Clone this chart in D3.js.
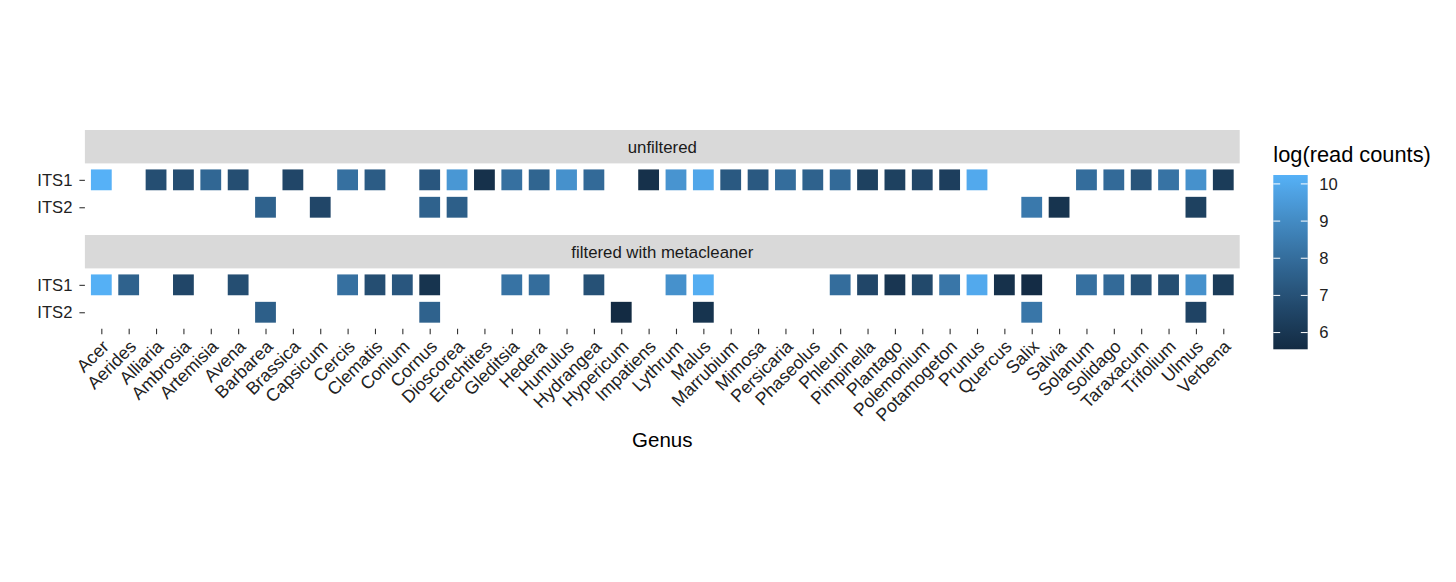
<!DOCTYPE html>
<html>
<head>
<meta charset="utf-8">
<script src="https://cdn.jsdelivr.net/npm/d3@7"></script>
<style>
  body { margin: 0; background: #fff; }
  svg text { font-family: "Liberation Sans", Arial, Helvetica, sans-serif; }
</style>
</head>
<body>
<div id="chart"></div>
<script>
// genus names along x
const genera = ["Acer","Aerides","Alliaria","Ambrosia","Artemisia","Avena","Barbarea","Brassica","Capsicum","Cercis",
  "Clematis","Conium","Cornus","Dioscorea","Erechtites","Gleditsia","Hedera","Humulus","Hydrangea","Hypericum",
  "Impatiens","Lythrum","Malus","Marrubium","Mimosa","Persicaria","Phaseolus","Phleum","Pimpinella","Plantago",
  "Polemonium","Potamogeton","Prunus","Quercus","Salix","Salvia","Solanum","Solidago","Taraxacum","Trifolium",
  "Ulmus","Verbena"]
const markers = ["ITS1", "ITS2"]
const facets = ["unfiltered", "filtered with metacleaner"]
const legendTicks = [6, 7, 8, 9, 10]

// log(read counts), null = no reads  (same order as genera)
const unfilteredITS1 = [10.24,null,6.9,6.9,7.8,6.9,null,6.6,null,8.1,
  7.4,null,7.2,9.4,5.8,8.1,7.7,9.2,7.9,null,
  5.8,9.3,9.9,7.3,7.3,8.0,7.6,7.9,6.4,6.4,
  6.6,6.3,10.0,null,null,null,8.0,7.9,7.1,8.2,
  9.2,6.2]
const unfilteredITS2 = [null,null,null,null,null,null,7.6,null,6.6,null,
  null,null,7.6,7.5,null,null,null,null,null,null,
  null,null,null,null,null,null,null,null,null,null,
  null,null,null,null,8.4,5.9,null,null,null,null,
  6.4,null]
const filteredITS1 = [10.2,7.6,null,6.6,null,6.9,null,null,null,8.1,
  6.9,7.2,5.9,null,null,8.2,8.0,null,7.0,null,
  null,9.2,10.1,null,null,null,null,8.0,6.6,6.0,
  6.7,8.3,10.0,5.8,5.6,null,8.1,7.9,7.0,6.9,
  9.2,6.2]
const filteredITS2 = [null,null,null,null,null,null,7.5,null,null,null,
  null,null,7.6,null,null,null,null,null,null,5.55,
  null,null,5.9,null,null,null,null,null,null,null,
  null,null,null,null,8.3,null,null,null,null,null,
  6.5,null]

const W = 1456, H = 582
const left = 84.9, right = 1239.7
const stripH = 33.4, panelH = 60.3
const facetTop = [130, 235]

const seriesByFacet = [[unfilteredITS1, unfilteredITS2], [filteredITS1, filteredITS2]]
const cells = []
seriesByFacet.forEach(function (rows, f) {
  rows.forEach(function (vals, r) {
    vals.forEach(function (v, i) {
      if (v != null) cells.push({facet: f, marker: markers[r], genus: genera[i], value: v})
    })
  })
})

const extent = d3.extent(cells, d => d.value)
const lab = d3.interpolateLab("#132B43", "#56B1F7")
const color = d3.scaleSequential(lab).domain(extent)

const svg = d3.select("#chart").append("svg")
  .attr("width", W).attr("height", H)
svg.append("rect").attr("width", W).attr("height", H).attr("fill", "#fff")

const x = d3.scalePoint().domain(genera).range([left, right]).padding(0.6)
const tileW = x.step() * 0.76

facets.forEach(function (name, f) {
  const top = facetTop[f]
  const pTop = top + stripH
  const y = d3.scalePoint().domain(markers).range([pTop, pTop + panelH]).padding(0.6)
  const tileH = y.step() * 0.76

  // strip
  svg.append("rect")
    .attr("x", left).attr("y", top)
    .attr("width", right - left).attr("height", stripH)
    .attr("fill", "#d9d9d9")
  svg.append("text")
    .attr("x", (left + right) / 2).attr("y", top + stripH / 2)
    .attr("dy", "0.35em")
    .attr("text-anchor", "middle")
    .attr("font-size", 16.8)
    .attr("fill", "#1a1a1a")
    .text(name)

  // tiles
  svg.append("g").selectAll("rect")
    .data(cells.filter(d => d.facet === f))
    .enter()
    .append("rect")
    .attr("x", d => x(d.genus) - tileW / 2)
    .attr("y", d => y(d.marker) - tileH / 2)
    .attr("width", tileW)
    .attr("height", tileH)
    .attr("fill", d => color(d.value))

  // y axis
  const yAxis = svg.append("g")
    .attr("transform", "translate(" + left + ",0)")
    .call(d3.axisLeft(y).tickSize(5.5).tickPadding(7))
  yAxis.select(".domain").remove()
  yAxis.selectAll("line").attr("stroke", "#333").attr("stroke-width", 1.1)
  yAxis.selectAll("text")
    .attr("font-size", 16.6)
    .attr("fill", "#222")
    .style("font-family", "Liberation Sans, Arial, sans-serif")

  // x axis under the last panel
  if (f === facets.length - 1) {
    const xAxis = svg.append("g")
      .attr("transform", "translate(0," + (pTop + panelH) + ")")
      .call(d3.axisBottom(x).tickSize(5.5).tickPadding(3))
    xAxis.select(".domain").remove()
    xAxis.selectAll("line").attr("stroke", "#333").attr("stroke-width", 1.1)
    xAxis.selectAll("text")
      .attr("font-size", 17.8)
      .attr("fill", "#222")
      .style("font-family", "Liberation Sans, Arial, sans-serif")
      .attr("text-anchor", "end")
      .attr("y", 0)
      .attr("dy", 0)
      .attr("transform", "translate(8,19) rotate(-45)")
  }
})

// x title
svg.append("text")
  .attr("x", (left + right) / 2).attr("y", 446.7)
  .attr("text-anchor", "middle")
  .attr("font-size", 20.5)
  .attr("fill", "#000")
  .text("Genus")

// legend
const barX = 1273.3, barW = 34.4, barTop = 175, barBot = 349.3
const ly = d3.scaleLinear().domain(extent).range([barBot, barTop])

svg.append("text")
  .attr("x", barX).attr("y", 162)
  .attr("font-size", 21.8)
  .attr("fill", "#000")
  .text("log(read counts)")

const grad = svg.append("defs").append("linearGradient")
  .attr("id", "lg").attr("x1", 0).attr("y1", 1).attr("x2", 0).attr("y2", 0)
grad.selectAll("stop")
  .data(d3.range(0, 1.0001, 0.05))
  .enter().append("stop")
  .attr("offset", d => d)
  .attr("stop-color", d => lab(d))

svg.append("rect")
  .attr("x", barX).attr("y", barTop)
  .attr("width", barW).attr("height", barBot - barTop)
  .attr("fill", "url(#lg)")

const lt = svg.append("g").selectAll("g")
  .data(legendTicks)
  .enter().append("g")
  .attr("transform", d => "translate(0," + ly(d) + ")")
lt.append("line")
  .attr("x1", barX).attr("x2", barX + barW * 0.2)
  .attr("stroke", "#fff").attr("stroke-width", 1)
lt.append("line")
  .attr("x1", barX + barW * 0.8).attr("x2", barX + barW)
  .attr("stroke", "#fff").attr("stroke-width", 1)
lt.append("text")
  .attr("x", barX + barW + 11.5)
  .attr("dy", "0.35em")
  .attr("font-size", 16.6)
  .attr("fill", "#222")
  .text(d => d)
</script>
</body>
</html>
